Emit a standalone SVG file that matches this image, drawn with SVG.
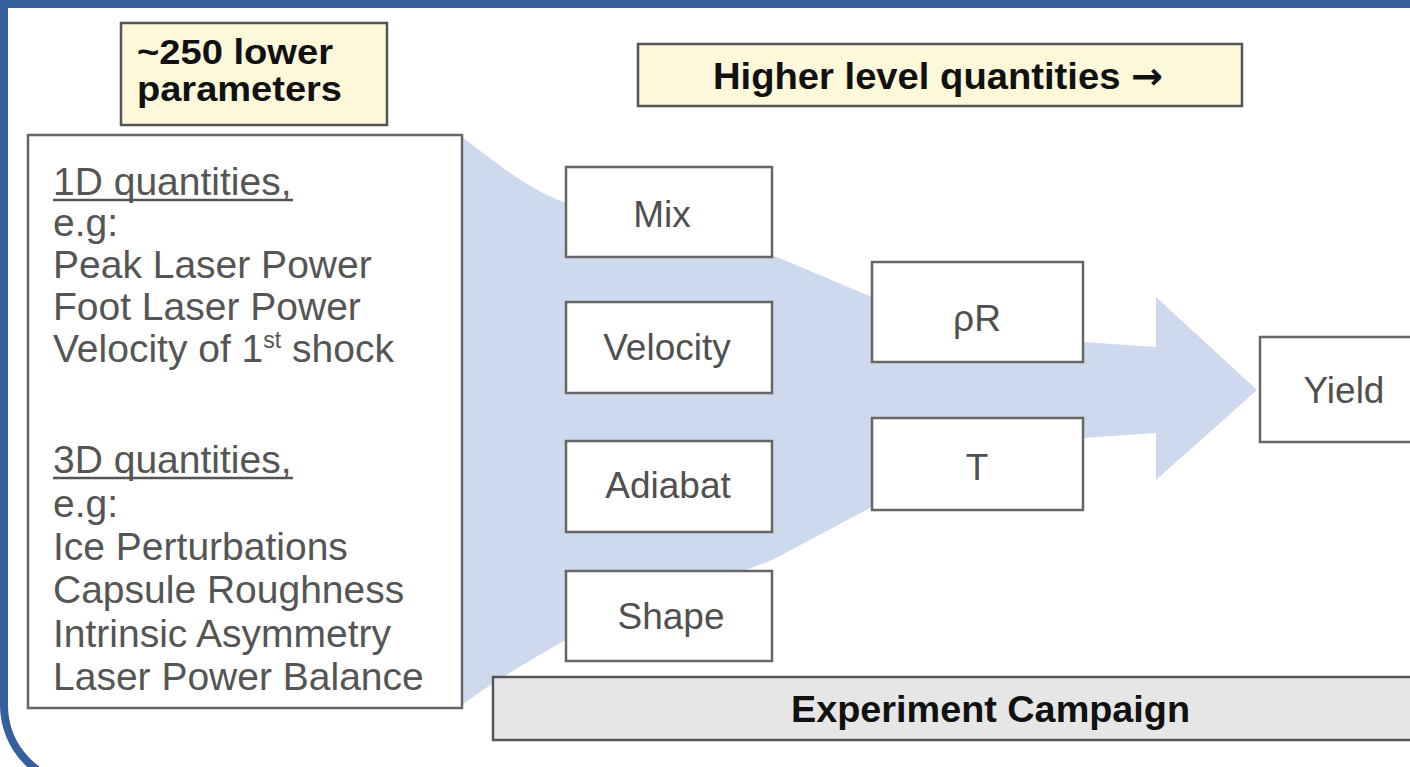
<svg xmlns="http://www.w3.org/2000/svg" width="1410" height="767" viewBox="0 0 1410 767">
<style>
.box{fill:#ffffff;stroke:#666666;stroke-width:2.5}
.note{fill:#fdf8d9;stroke:#555555;stroke-width:2.5}
.bar{fill:#e6e6e6;stroke:#555555;stroke-width:2.5}
.lbl{font-family:"Liberation Sans",Arial,sans-serif;font-size:37px;fill:#505050;text-anchor:middle}
.lst{font-family:"Liberation Sans",Arial,sans-serif;font-size:39px;fill:#555555}
.bold{font-family:"Liberation Sans",Arial,sans-serif;font-weight:bold;fill:#111111}
.ul{stroke:#555555;stroke-width:2.5}
</style>
<rect x="0" y="0" width="1410" height="767" fill="#ffffff"/>
<g id="frame">
<rect x="0" y="0" width="1410" height="8" fill="#36609b"/>
<path d="M4,0 L4,705 A80,80 0 0 0 84,785" fill="none" stroke="#36609b" stroke-width="8"/>
</g>
<g id="connectors">
<path d="M455,137 L462,137 C490,158 525,188 566,203 L772,255 L872,297 L1000,330 L1083,342 L1156,347 L1156,297 L1257,390 L1156,480 L1156,433 L1083,438 L1000,470 L872,507 L772,560 L566,640 C530,660 490,684 462,705 L455,705 Z" fill="#cfd9ee"/>
</g>
<g id="lower-params-label">
<rect class="note" x="121" y="23" width="266" height="102"/>
<text class="bold" x="137" y="64" font-size="35" textLength="196" lengthAdjust="spacingAndGlyphs">~250 lower</text>
<text class="bold" x="137" y="101" font-size="35" textLength="205" lengthAdjust="spacingAndGlyphs">parameters</text>
</g>
<g id="lower-params">
<rect class="box" x="28" y="135" width="434" height="573"/>
<text class="lst" x="53" y="195">1D quantities,</text>
<line class="ul" x1="53" y1="200" x2="293" y2="200"/>
<text class="lst" x="53" y="236">e.g:</text>
<text class="lst" x="53" y="278">Peak Laser Power</text>
<text class="lst" x="53" y="320">Foot Laser Power</text>
<text class="lst" x="53" y="362">Velocity of 1<tspan font-size="23" dy="-14">st</tspan><tspan dy="14"> shock</tspan></text>
<text class="lst" x="53" y="473">3D quantities,</text>
<line class="ul" x1="53" y1="478" x2="293" y2="478"/>
<text class="lst" x="53" y="517">e.g:</text>
<text class="lst" x="53" y="560">Ice Perturbations</text>
<text class="lst" x="53" y="603">Capsule Roughness</text>
<text class="lst" x="53" y="647">Intrinsic Asymmetry</text>
<text class="lst" x="53" y="690">Laser Power Balance</text>
</g>
<g id="higher-label">
<rect class="note" x="638" y="44" width="604" height="62"/>
<text class="bold" x="713" y="89" font-size="37" textLength="450" lengthAdjust="spacingAndGlyphs">Higher level quantities <tspan font-family="'DejaVu Sans',sans-serif">→</tspan></text>
</g>
<g id="mix">
<rect class="box" x="566" y="167" width="206" height="90"/>
<text class="lbl" x="662" y="227">Mix</text>
</g>
<g id="velocity">
<rect class="box" x="566" y="302" width="206" height="91"/>
<text class="lbl" x="667" y="360">Velocity</text>
</g>
<g id="adiabat">
<rect class="box" x="566" y="441" width="206" height="91"/>
<text class="lbl" x="668" y="498">Adiabat</text>
</g>
<g id="shape">
<rect class="box" x="566" y="571" width="206" height="90"/>
<text class="lbl" x="671" y="629">Shape</text>
</g>
<g id="rhoR">
<rect class="box" x="872" y="262" width="211" height="100"/>
<text class="lbl" x="977" y="331">ρR</text>
</g>
<g id="T">
<rect class="box" x="872" y="418" width="211" height="92"/>
<text class="lbl" x="977" y="480">T</text>
</g>
<g id="yield">
<rect class="box" x="1260" y="337" width="170" height="105"/>
<text class="lbl" x="1344" y="403">Yield</text>
</g>
<g id="experiment-campaign">
<rect class="bar" x="493" y="677" width="940" height="63"/>
<text class="bold" x="791" y="722" font-size="36" textLength="399" lengthAdjust="spacingAndGlyphs">Experiment Campaign</text>
</g>
</svg>
